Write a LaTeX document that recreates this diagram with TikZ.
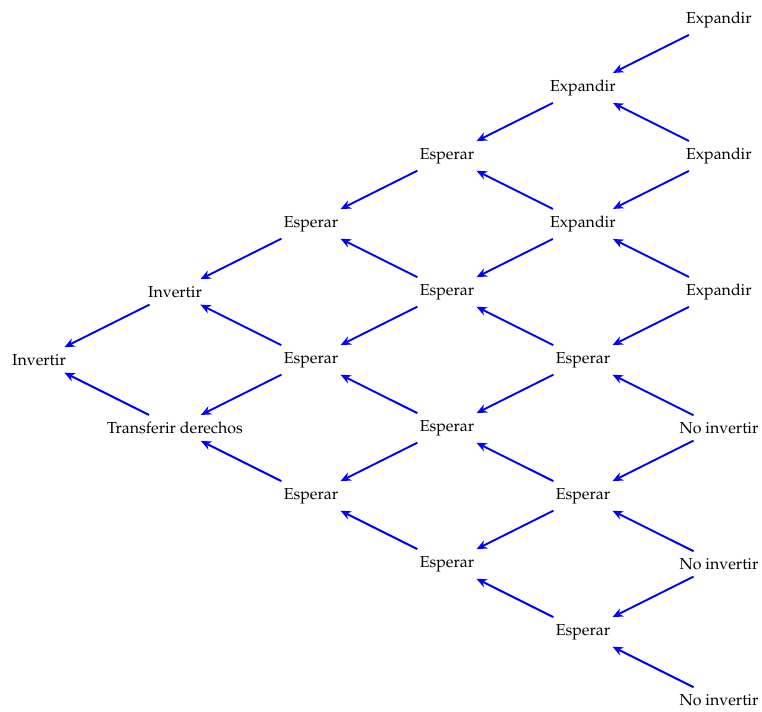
\documentclass[tikz,border=0pt]{standalone}
\usepackage[T1]{fontenc}
\usepackage{mathpazo}
\usepackage{tikz}
\usetikzlibrary{positioning,shapes,arrows,arrows.meta}
\usepackage{xcolor}

\begin{document}
\begin{tikzpicture}[thick, opt/.style = {inner sep=4pt}, edge/.style = {-{Stealth[length=6.5pt,width=5.5pt,inset=2pt]}, blue, line width=1.2pt}]
            \useasboundingbox (-0.86,7.94) rectangle (15.95,-7.75);
            \node[opt] (1) at (0,0) {Invertir};
            \node[opt] (2) at (3,1.5) {Invertir};
            \node[opt] (3) at (3,-1.5) {Transferir derechos};
            \node[opt] (4) at (6,3) {Esperar};
            \node[opt] (5) at (6,0) {Esperar};
            \node[opt] (6) at (6,-3) {Esperar};
            \node[opt] (7) at (9,4.5) {Esperar};
            \node[opt] (8) at (9,1.5) {Esperar};
            \node[opt] (9) at (9,-1.5) {Esperar};
            \node[opt] (10) at (9,-4.5) {Esperar};
            \node[opt] (11) at (12,6) {Expandir};
            \node[opt] (12) at (12,3) {Expandir};
            \node[opt] (13) at (12,0) {Esperar};
            \node[opt] (14) at (12,-3) {Esperar};
            \node[opt] (15) at (12,-6) {Esperar};
            \node[opt] (16) at (15,7.5) {Expandir};
            \node[opt] (17) at (15,4.5) {Expandir};
            \node[opt] (18) at (15,1.5) {Expandir};
            \node[opt] (19) at (15,-1.5) {No invertir};
            \node[opt] (20) at (15,-4.5) {No invertir};
            \node[opt] (21) at (15,-7.5) {No invertir};
            \draw[edge] (2) -- (1);
            \draw[edge] (3) -- (1);
            \draw[edge] (4) -- (2);
            \draw[edge] (5) -- (2);
            \draw[edge] (5) -- (3);
            \draw[edge] (6) -- (3);
            \draw[edge] (7) -- (4);
            \draw[edge] (8) -- (4);
            \draw[edge] (8) -- (5);
            \draw[edge] (9) -- (5);
            \draw[edge] (9) -- (6);
            \draw[edge] (10) -- (6);
            \draw[edge] (11) -- (7);
            \draw[edge] (12) -- (7);
            \draw[edge] (12) -- (8);
            \draw[edge] (13) -- (8);
            \draw[edge] (13) -- (9);
            \draw[edge] (14) -- (9);
            \draw[edge] (14) -- (10);
            \draw[edge] (15) -- (10);
            \draw[edge] (16) -- (11);
            \draw[edge] (17) -- (11);
            \draw[edge] (17) -- (12);
            \draw[edge] (18) -- (12);
            \draw[edge] (18) -- (13);
            \draw[edge] (19) -- (13);
            \draw[edge] (19) -- (14);
            \draw[edge] (20) -- (14);
            \draw[edge] (20) -- (15);
            \draw[edge] (21) -- (15);
        \end{tikzpicture}
\end{document}
